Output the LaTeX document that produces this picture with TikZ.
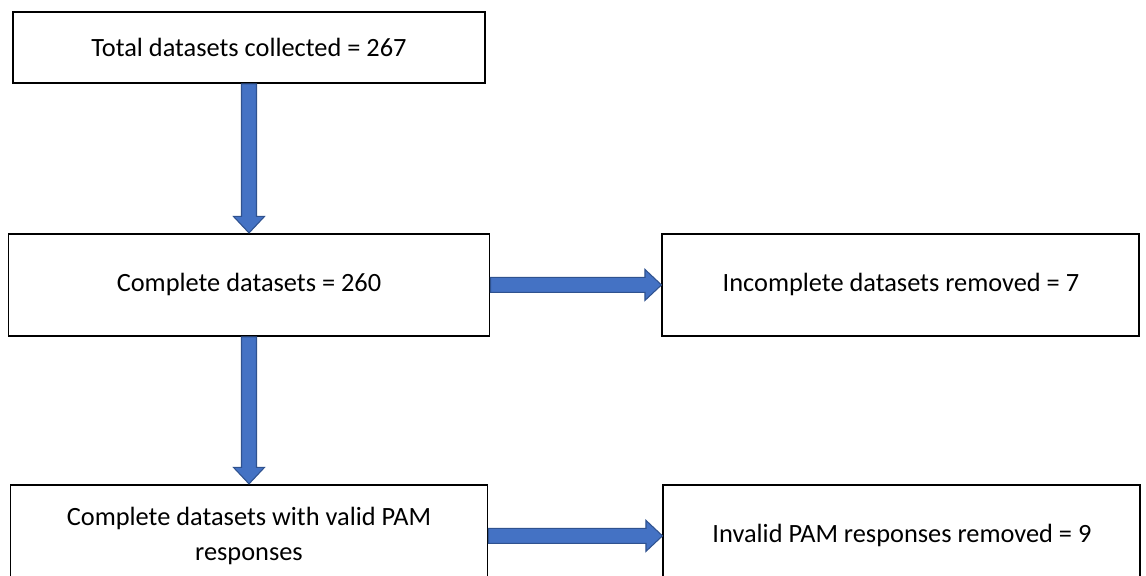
\documentclass[tikz,border=0pt]{standalone}
\usepackage{fontspec}
\setmainfont{Carlito}
\usepackage{xcolor}
\usetikzlibrary{positioning, calc}

\definecolor{arrowblue}{HTML}{4472C4}
\definecolor{arrowedge}{HTML}{2F528F}

\newcommand{\blockarrow}[2]{%
  \path (#1) coordinate (ba-s) (#2) coordinate (ba-e)
        ($(ba-e)!0.33cm!(ba-s)$) coordinate (ba-h);
  \filldraw[barr] ($(ba-s)!0.15cm!90:(ba-e)$)
    -- ($(ba-h)!0.15cm!-90:(ba-s)$) -- ($(ba-h)!0.31cm!-90:(ba-s)$)
    -- (ba-e)
    -- ($(ba-h)!0.31cm!90:(ba-s)$) -- ($(ba-h)!0.15cm!90:(ba-s)$)
    -- ($(ba-s)!0.15cm!-90:(ba-e)$) -- cycle;
}

\begin{document}
\begin{tikzpicture}[
  box/.style={draw, line width=1.1pt, minimum height=2.04cm,
              minimum width=9.54cm, align=center, inner sep=0pt,
              font=\fontsize{15}{20}\selectfont},
  barr/.style={fill=arrowblue, draw=arrowedge, line width=0.6pt, line join=miter}
]
  \clip (0,0) rectangle (22.92,-11.52);

  \node[box, minimum width=9.44cm, minimum height=1.42cm] (total) at (4.98,-0.95)
    {Total datasets collected = 267};
  \node[box, minimum width=9.62cm, below=2.98cm of total] (complete)
    {Complete datasets = 260};
  \node[box, right=3.42cm of complete] (incomplete)
    {Incomplete datasets removed = 7};
  \node[box, below=2.94cm of complete] (valid)
    {Complete datasets with valid PAM\\responses};
  \node[box, right=3.48cm of valid] (invalid)
    {Invalid PAM responses removed = 9};

  \blockarrow{total.south}{complete.north}
  \blockarrow{complete.east}{incomplete.west}
  \blockarrow{complete.south}{valid.north}
  \blockarrow{valid.east}{invalid.west}
\end{tikzpicture}
\end{document}
